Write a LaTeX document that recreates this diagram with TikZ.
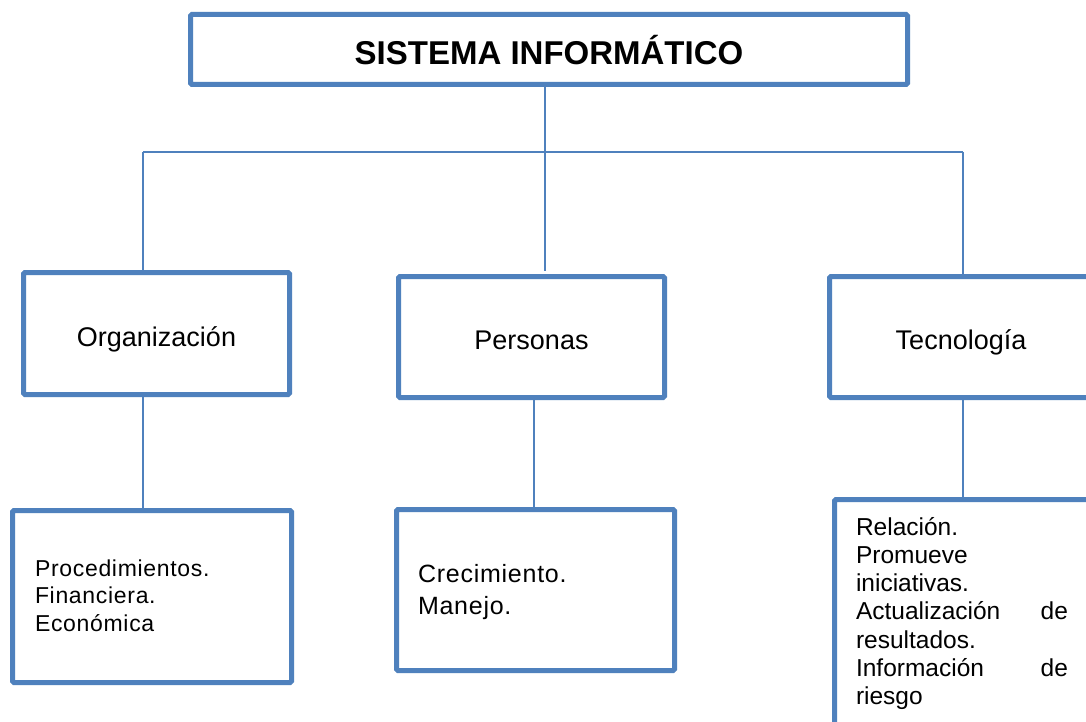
\documentclass[tikz,border=0pt]{standalone}
\usepackage{fontspec}
\setmainfont{Liberation Sans}
\newfontfamily\spacedA[LetterSpace=3]{Liberation Sans}
\newfontfamily\spacedB[LetterSpace=3]{Liberation Sans}
\definecolor{boxblue}{HTML}{4F81BD}
\begin{document}
\begin{tikzpicture}[x=1pt,y=-1pt,
  box/.style={draw=boxblue, line width=5pt, rounded corners=1.5pt, fill=white,
    inner sep=0pt, outer sep=0pt, font=\fontsize{27}{32}\selectfont},
  conn/.style={draw=boxblue, line width=1.6pt},
  txt/.style={inner sep=0pt, outer sep=0pt, align=left, anchor=north west}]
\fill[white] (0,0) rectangle (1086,722);
\useasboundingbox (0,0) rectangle (1086,722);

\coordinate (hl) at (143,152);
\coordinate (hr) at (963,152);
\coordinate (pm) at (534,0);

\node[box, minimum width=717pt, minimum height=70pt, text height=31pt, text depth=0pt,
  font=\fontsize{33}{38}\selectfont\bfseries] (top) at (549,49.5) {SISTEMA INFORMÁTICO};
\node[box, minimum width=266pt, minimum height=122pt, text height=25pt, text depth=0pt] (org) at (156.5,333.5) {Organización};
\node[box, minimum width=266pt, minimum height=121pt, text height=24pt, text depth=0pt] (per) at (531.5,337) {Personas};
\node[box, minimum width=263pt, minimum height=121pt, text height=24pt, text depth=0pt] (tec) at (961,337) {Tecnología};
\node[box, minimum width=279pt, minimum height=172pt] (proc) at (152,596.5) {};
\node[box, minimum width=278pt, minimum height=161pt] (crec) at (535.5,590) {};
\node[box, minimum width=265.5pt, minimum height=260.5pt] (tecb) at (967.25,629.75) {};

\draw[conn] ([xshift=-4pt]top.south) -- ([xshift=-4pt,yshift=6pt]top.south |- per.north);
\draw[conn] (hl) -- (hr);
\draw[conn] (hl) -- (hl |- org.north);
\draw[conn] (hr) -- (hr |- tec.north);
\draw[conn] (hl |- org.south) -- (hl |- proc.north);
\draw[conn] (pm |- per.south) -- (pm |- crec.north);
\draw[conn] (hr |- tec.south) -- (hr |- tecb.north);

\node[txt, font={\spacedA\fontsize{23}{27.5}\selectfont}] (procT) at (35,559.5)
  {Procedimientos.\\Financiera.\\Económica};
\node[txt, font={\spacedB\fontsize{25}{32}\selectfont}] (crecT) at (418,564.8)
  {Crecimiento.\\Manejo.};
\node[txt, text width=212pt, font={\fontsize{24.5}{28.3}\selectfont}] (tecT) at (856,517)
  {Relación.\\Promueve\\iniciativas.\\Actualización\hfill de\\resultados.\\Información\hfill de\\riesgo};
\end{tikzpicture}
\end{document}
